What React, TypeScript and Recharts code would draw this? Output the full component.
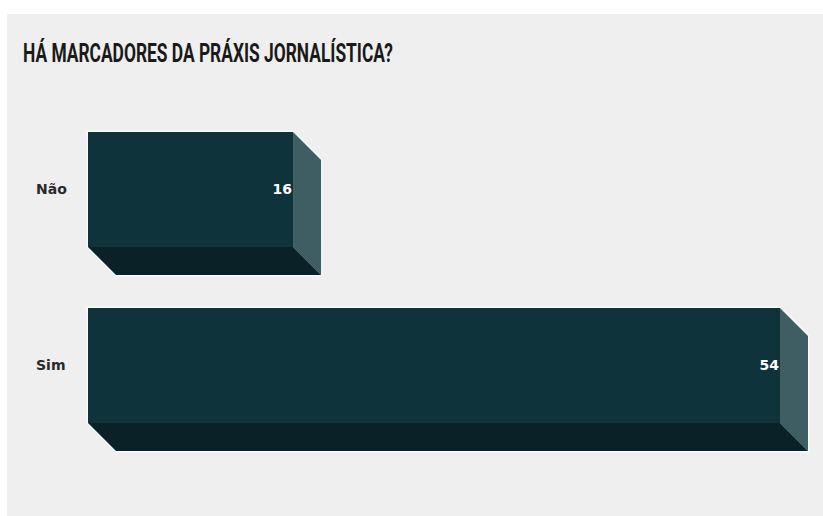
import React from "react";
import { BarChart, Bar, XAxis, YAxis, LabelList } from "recharts";

const categories = ["Não", "Sim"];
const counts = [16, 54];
const title = "HÁ MARCADORES DA PRÁXIS JORNALÍSTICA?";

const data = categories.map((name, i) => ({ name, value: counts[i] }));

const DEPTH = 28;
const FRONT = "#0e333b";
const SIDE = "#3e5e64";
const BOTTOM = "#0a2227";

function Box3D(props: any) {
  const { x, y, width, height } = props;
  if (!width || !height) return null;
  const d = DEPTH;
  const pts = (list: number[][]) => list.map((p) => p.join(",")).join(" ");
  const outline = pts([
    [x, y],
    [x + width, y],
    [x + width + d, y + d],
    [x + width + d, y + height + d],
    [x + d, y + height + d],
    [x, y + height],
  ]);
  const side = pts([
    [x + width, y],
    [x + width + d, y + d],
    [x + width + d, y + height + d],
    [x + width, y + height],
  ]);
  const bottom = pts([
    [x, y + height],
    [x + width, y + height],
    [x + width + d, y + height + d],
    [x + d, y + height + d],
  ]);
  return (
    <g>
      <polygon points={outline} fill="none" stroke="#f7fbfc" strokeWidth={3} strokeLinejoin="round" />
      <polygon points={side} fill={SIDE} />
      <polygon points={bottom} fill={BOTTOM} />
      <rect x={x} y={y} width={width} height={height} fill={FRONT} />
    </g>
  );
}

function CategoryTick(props: any) {
  const { y, payload } = props;
  return (
    <text x={36} y={y} dy={5} textAnchor="start" fontSize={14} fontWeight={700} fill="#2a2a2a" fontFamily="'DejaVu Sans', sans-serif">
      {payload.value}
    </text>
  );
}

export default function App() {
  return (
    <div style={{ position: "absolute", left: 0, top: 0, width: 823, height: 516, background: "#ffffff", overflow: "hidden" }}>
      <div style={{ position: "absolute", left: 7, top: 14, width: 816, height: 502, background: "#efefef" }} />
      <svg width={823} height={80} style={{ position: "absolute", left: 0, top: 0 }}>
        <text
          x={23}
          y={62}
          textLength={370}
          lengthAdjust="spacingAndGlyphs"
          fontFamily="Roboto, sans-serif"
          fontWeight={700}
          fontSize={26}
          fill="#1a1a1a"
        >
          {title}
        </text>
      </svg>
      <div style={{ position: "absolute", left: 0, top: 0 }}>
        <BarChart
          width={823}
          height={516}
          data={data}
          layout="vertical"
          margin={{ top: 101, right: 43, bottom: 63, left: 0 }}
          barCategoryGap={61}
        >
          <XAxis type="number" domain={[0, "dataMax"]} hide />
          <YAxis type="category" dataKey="name" width={88} axisLine={false} tickLine={false} tick={<CategoryTick />} />
          <Bar dataKey="value" barSize={115} shape={<Box3D />} isAnimationActive={false}>
            <LabelList
              dataKey="value"
              position="insideRight"
              offset={1}
              fill="#ffffff"
              fontSize={14}
              fontWeight={700}
              fontFamily="'DejaVu Sans', sans-serif"
            />
          </Bar>
        </BarChart>
      </div>
    </div>
  );
}
